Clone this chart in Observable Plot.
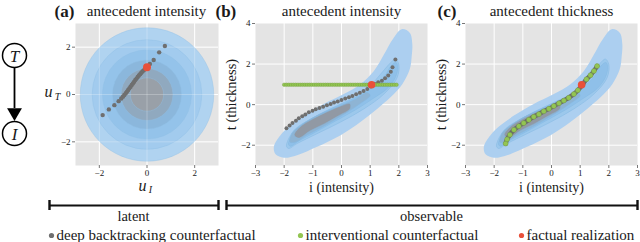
<!DOCTYPE html>
<html><head><meta charset="utf-8">
<script src="https://cdn.jsdelivr.net/npm/d3@7"></script>
<script src="https://cdn.jsdelivr.net/npm/@observablehq/plot@0.6"></script>
<style>
body{margin:0;background:#fff;}
#wrap{position:relative;width:640px;height:242px;overflow:hidden;}
#wrap svg{position:absolute;top:0;background:transparent !important;overflow:visible;}
#wrap svg, #wrap svg text{font-family:"Liberation Serif", "DejaVu Serif", serif !important;}
</style></head><body><div id="wrap"></div>
<script>
// ---------- data ----------
const panelTitles = ["antecedent intensity", "antecedent intensity", "antecedent thickness"];
const panelTags = ["(a)", "(b)", "(c)"];
const latentTicks = [-2, 0, 2];
const obsTicksX = [-3, -2, -1, 0, 1, 2, 3];
const obsTicksY = [-2, 0, 2, 4];
const obsGridX = [-2, -1, 0, 1, 2];
const obsGridY = [-2, 0, 2];

// latent density: concentric contour radii (u_I, u_T ~ N(0, I))
const latentRadii = [2.8, 2.3, 1.87, 1.45, 1.09, 0.7];

// deep backtracking counterfactual in latent space [u_I, u_T]
const latentBacktrack = [
  [-1.86,-0.87],[-1.60,-0.63],[-1.37,-0.45],[-1.19,-0.28],[-1.08,-0.17],[-1.01,-0.09],
  [-0.95,-0.02],[-0.89,0.05],[-0.84,0.12],[-0.79,0.19],[-0.74,0.26],[-0.69,0.33],
  [-0.64,0.40],[-0.59,0.47],[-0.54,0.54],[-0.49,0.61],[-0.44,0.67],[-0.39,0.74],
  [-0.34,0.80],[-0.29,0.86],[-0.24,0.92],[-0.19,0.97],[-0.14,1.02],[-0.09,1.07],
  [-0.04,1.12],[0.03,1.20],[0.12,1.29],[0.28,1.46],[0.51,1.78],[0.75,2.05]
];
const latentFactual = [0.0, 1.15];

// observational density contours [i, t] (outer -> inner)
const contourOuter = [
  [-2.30,-2.45],[-2.36,-2.08],[-2.13,-1.51],[-1.78,-1.02],[-1.31,-0.54],[-0.62,0.03],
  [0.08,0.52],[0.66,1.01],[1.13,1.66],[1.48,2.47],[1.80,3.25],[2.10,3.72],[2.38,3.55],
  [2.47,3.00],[2.45,2.40],[2.38,1.74],[2.12,1.01],[1.71,0.36],[1.24,-0.21],[0.66,-0.86],
  [-0.03,-1.51],[-0.85,-2.08],[-1.55,-2.49],[-2.01,-2.62]
];
const contourSecond = [
  [-1.92,-2.05],[-1.66,-1.27],[-0.85,-0.54],[0.08,0.11],[0.78,0.60],[1.36,1.50],
  [1.71,2.06],[1.88,2.25],[2.00,1.98],[1.94,1.33],[1.48,0.52],[0.78,-0.21],
  [-0.03,-0.86],[-0.85,-1.43],[-1.55,-1.92],[-1.84,-2.16]
];
const contourThird = [
  [-1.85,-1.95],[-1.70,-1.45],[-1.30,-0.95],[-0.80,-0.50],[-0.20,-0.10],[0.50,0.35],
  [1.10,0.85],[1.50,1.40],[1.75,1.95],[1.90,2.08],[1.96,1.85],[1.88,1.35],[1.60,0.80],
  [1.10,0.30],[0.50,-0.25],[-0.20,-0.80],[-0.90,-1.35],[-1.50,-1.80],[-1.78,-2.05]
];
const contourFourth = [
  [-1.80,-1.85],[-1.72,-1.40],[-1.35,-0.95],[-0.80,-0.50],[-0.20,-0.15],[0.45,0.25],
  [0.90,0.60],[1.00,0.45],[0.60,0.00],[0.00,-0.55],[-0.60,-1.05],[-1.20,-1.50],[-1.60,-1.85]
];
const contourCore = [
  [-1.65,-1.50],[-1.45,-1.10],[-1.00,-0.70],[-0.50,-0.35],[0.00,-0.05],[0.30,0.05],
  [0.30,-0.20],[-0.10,-0.55],[-0.60,-0.95],[-1.10,-1.30],[-1.50,-1.65]
];

// (b) deep backtracking counterfactual, antecedent intensity [i, t]
const obsBacktrackI = [
  [-1.92,-1.16],[-1.81,-1.03],[-1.71,-0.90],[-1.59,-0.79],[-1.49,-0.67],[-1.37,-0.57],
  [-1.26,-0.48],[-1.14,-0.38],[-1.01,-0.30],[-0.90,-0.23],[-0.77,-0.16],[-0.64,-0.10],
  [-0.51,-0.03],[-0.38,0.03],[-0.26,0.10],[-0.13,0.16],[0.00,0.23],[0.13,0.30],
  [0.26,0.36],[0.38,0.43],[0.51,0.51],[0.64,0.59],[0.77,0.67],[0.90,0.77],[1.02,0.89],
  [1.16,1.02],[1.28,1.10],[1.41,1.18],[1.52,1.30],[1.63,1.44],[1.72,1.62],[1.78,1.84],[1.88,2.23]
];
// (b) interventional counterfactual: intensity values (thickness stays factual)
const intervI = [
  -2.00,-1.92,-1.84,-1.76,-1.68,-1.60,-1.52,-1.44,-1.36,-1.28,-1.20,-1.12,-1.04,-0.96,
  -0.88,-0.80,-0.72,-0.64,-0.56,-0.48,-0.40,-0.32,-0.24,-0.16,-0.08,0.00,0.08,0.16,0.24,
  0.32,0.40,0.48,0.56,0.64,0.72,0.80,0.88,0.96,1.04,1.12,1.20,1.28,1.36,1.44,1.52,1.60,
  1.68,1.76,1.84,1.92
];
// (c) counterfactuals, antecedent thickness [i, t] (interventional = backtracking)
const obsCounterT = [
  [-1.60,-1.92],[-1.55,-1.71],[-1.45,-1.48],[-1.31,-1.24],[-1.14,-1.06],[-0.97,-0.91],
  [-0.79,-0.75],[-0.62,-0.60],[-0.44,-0.47],[-0.27,-0.33],[-0.09,-0.20],[0.08,-0.07],
  [0.26,0.07],[0.43,0.20],[0.60,0.34],[0.78,0.52],[0.92,0.71],[1.08,0.98],[1.22,1.25],
  [1.36,1.45],[1.48,1.66],[1.59,1.90]
];
const obsFactual = [1.05, 0.98];

const legendLabels = ["deep backtracking counterfactual", "interventional counterfactual", "factual realization"];
const groupLabels = ["latent", "observable"];
const dagNodes = ["T", "I"];

// ---------- styles ----------
const FONT = "Liberation Serif, DejaVu Serif, serif";
const BG = "#e4e4e4";
const GRAY = "#6f6f6f", GREEN = "#93c552", GREEN_EDGE = "#6e9d38", RED = "#e8503a";
const ringFills = ["#b0d3f0", "#a2cbee", "#94c3ea", "#8bb7dc", "#90a9bf", "#99a0a8"];
const contourFills = ["#accff0", "#9cc8ec", "#8fc0e9", "#8eb4d4", "#9199a4"];
const fmt = d => d < 0 ? "\u2212" + (-d) : String(d);

const wrap = document.getElementById("wrap");
function place(el, left) { el.style.left = left + "px"; el.style.top = "0px"; wrap.appendChild(el); }
const baseStyle = {fontFamily: FONT, background: "transparent", color: "#1a1a1a", overflow: "visible"};

// ---------- panel (a) ----------
const pxPerUnit = 143 / 6;
const pa = Plot.plot({
  width: 185, height: 195, marginLeft: 35, marginRight: 7, marginTop: 23, marginBottom: 30,
  style: baseStyle,
  x: {domain: [-3, 3]}, y: {domain: [-3, 3]},
  r: {type: "linear", domain: [0, 3], range: [0, 3 * pxPerUnit]},
  color: {type: "identity"},
  marks: [
    Plot.frame({fill: BG, stroke: "none"}),
    Plot.gridX(latentTicks, {stroke: "white", strokeOpacity: 1}),
    Plot.gridY(latentTicks, {stroke: "white", strokeOpacity: 1}),
    Plot.dot(latentRadii, {x: () => 0, y: () => 0, r: d => d, fill: (d, i) => ringFills[i], stroke: "#8fc1e6", strokeWidth: 0.4}),
    Plot.gridX(latentTicks, {stroke: "white", strokeOpacity: 0.25}),
    Plot.gridY(latentTicks, {stroke: "white", strokeOpacity: 0.25}),
    Plot.axisX(latentTicks, {tickSize: 3, tickPadding: 1, fontSize: 9, label: null, tickFormat: fmt, stroke: "#777"}),
    Plot.axisY(latentTicks, {tickSize: 3, tickPadding: 2, fontSize: 9, label: null, tickFormat: fmt, stroke: "#777"}),
    Plot.dot(latentBacktrack, {x: d => d[0], y: d => d[1], r: 2.2, fill: GRAY}),
    Plot.dot([latentFactual], {x: d => d[0], y: d => d[1], r: 4, fill: RED})
  ]
});
place(pa, 40);

// ---------- panels (b), (c) ----------
function obsPanel(which) {
  const contourMarks = [contourOuter, contourSecond, contourThird, contourFourth, contourCore].map((poly, i) =>
    Plot.line(poly, {x: d => d[0], y: d => d[1], curve: "catmull-rom-closed", fill: contourFills[i],
      stroke: i === 0 ? "none" : "#84b9e2", strokeWidth: 0.5}));
  const marks = which === "b" ? [
    Plot.dot(obsBacktrackI, {x: d => d[0], y: d => d[1], r: 2, fill: GRAY}),
    Plot.dot(intervI, {x: d => d, y: () => obsFactual[1], r: 1.8, fill: GREEN, stroke: GREEN_EDGE, strokeWidth: 0.4}),
    Plot.dot([obsFactual], {x: d => d[0], y: d => d[1], r: 3.8, fill: RED})
  ] : [
    Plot.line(obsCounterT, {x: d => d[0], y: d => d[1], stroke: "#6a6a6a", strokeWidth: 4.5, curve: "catmull-rom"}),
    Plot.dot(obsCounterT, {x: d => d[0], y: d => d[1], r: 2.5, fill: GREEN, stroke: "#6f8f4a", strokeWidth: 0.4}),
    Plot.dot([obsFactual], {x: d => d[0], y: d => d[1], r: 3.8, fill: RED})
  ];
  return Plot.plot({
    width: 220, height: 195, marginLeft: 45, marginRight: 3, marginTop: 23, marginBottom: 30,
    style: baseStyle,
    x: {domain: [-3, 3]}, y: {domain: [-3, 4]},
    marks: [
      Plot.frame({fill: BG, stroke: "none"}),
      Plot.gridX(obsGridX, {stroke: "white", strokeOpacity: 1}),
      Plot.gridY(obsGridY, {stroke: "white", strokeOpacity: 1}),
      ...contourMarks,
      Plot.axisX(obsTicksX, {tickSize: 3, tickPadding: 1, fontSize: 9, label: null, tickFormat: fmt, stroke: "#777"}),
      Plot.axisY(obsTicksY, {tickSize: 3, tickPadding: 2, fontSize: 9, label: null, tickFormat: fmt, stroke: "#777"}),
      ...marks
    ]
  });
}
place(obsPanel("b"), 210);
place(obsPanel("c"), 420);

// ---------- annotation layer (pixel coordinates) ----------
const tags = panelTags.map((t, i) => ({t, x: [54, 215, 437][i]}));
const titles = panelTitles.map((t, i) => ({t, x: [146, 341, 551][i]}));
const legend = legendLabels.map((t, i) => ({t, x: [51, 300, 521][i], c: [GRAY, GREEN, RED][i]}));
const ann = Plot.plot({
  width: 640, height: 242, margin: 0, style: baseStyle,
  x: {domain: [0, 640], range: [0, 640], axis: null},
  y: {domain: [0, 242], range: [0, 242], axis: null},
  color: {type: "identity"},
  marks: [
    // DAG
    Plot.ruleX([14], {y1: 67, y2: 108, strokeWidth: 1.8, stroke: "black"}),
    Plot.dot([14], {x: d => d, y: () => 112, symbol: "triangle", rotate: 180, r: 5.5, fill: "black", stroke: "none"}),
    Plot.dot(dagNodes, {x: () => 14, y: (d, i) => [55, 133][i], r: 12, stroke: "black", strokeWidth: 1.5, fill: "white"}),
    Plot.text(dagNodes, {x: () => 14, y: (d, i) => [55, 133][i], text: d => d, fontStyle: "italic", fontSize: 17, dy: 1}),
    // titles
    Plot.text(tags, {x: "x", y: () => 11, text: "t", textAnchor: "start", fontWeight: "bold", fontSize: 17}),
    Plot.text(titles, {x: "x", y: () => 11, text: "t", fontSize: 15}),
    // axis labels
    Plot.text(["u"], {x: () => 48, y: () => 91, text: d => d, fontStyle: "italic", fontSize: 16}),
    Plot.text(["T"], {x: () => 57, y: () => 96, text: d => d, fontStyle: "italic", fontSize: 10}),
    Plot.text(["u"], {x: () => 142, y: () => 185, text: d => d, fontStyle: "italic", fontSize: 16}),
    Plot.text(["I"], {x: () => 150, y: () => 189, text: d => d, fontStyle: "italic", fontSize: 10}),
    Plot.text(["i (intensity)", "i (intensity)"], {x: (d, i) => [341, 551][i], y: () => 187, text: d => d, fontSize: 14}),
    Plot.text(["t (thickness)", "t (thickness)"], {x: (d, i) => [231, 441][i], y: () => 94, text: d => d, fontSize: 14.5, rotate: -90}),
    // brackets
    Plot.ruleY([205, 205], {y: d => d, x1: (d, i) => [49, 226][i], x2: (d, i) => [218, 637][i], strokeWidth: 2.2, stroke: "#111"}),
    Plot.ruleX([49, 218, 226, 637], {x: d => d, y1: 200, y2: 210, strokeWidth: 2.4, stroke: "#111"}),
    Plot.text(groupLabels, {x: (d, i) => [133, 431][i], y: () => 216, text: d => d, fontSize: 14.5}),
    // legend
    Plot.dot(legend, {x: "x", y: () => 235, r: 2.6, fill: "c"}),
    Plot.text(legend, {x: d => d.x + 5, y: () => 235, text: "t", textAnchor: "start", fontSize: 15})
  ]
});
place(ann, 0);
</script></body></html>
